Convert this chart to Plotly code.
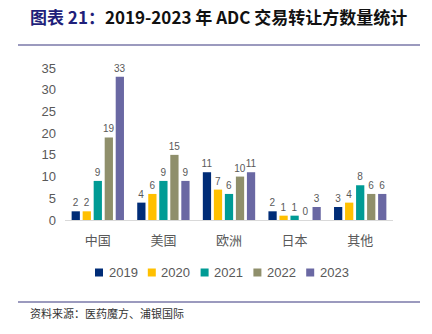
import plotly.graph_objects as go

categories = ["中国", "美国", "欧洲", "日本", "其他"]
years = ["2019", "2020", "2021", "2022", "2023"]
v2019 = [2, 4, 11, 2, 3]
v2020 = [2, 6, 7, 1, 4]
v2021 = [9, 9, 6, 1, 8]
v2022 = [19, 15, 10, 0, 6]
v2023 = [33, 9, 11, 3, 6]
series = [v2019, v2020, v2021, v2022, v2023]
colors = ["#002C77", "#FFC000", "#009B95", "#8F8F6B", "#6A68A3"]

W, H = 432, 334
L, R, T, B = 65, 393, 68, 220
pw, ph = R - L, B - T
def px(x):
    return (x - L) / pw
def py(y):
    return (B - y) / ph

fig = go.Figure()
for name, vals, c in zip(years, series, colors):
    fig.add_trace(go.Bar(
        x=categories, y=vals, name=name, showlegend=False,
        marker=dict(color=c, line=dict(width=0)),
        text=[str(v) for v in vals], textposition="outside", constraintext="none",
        textfont=dict(size=10, color="#595959", family="Liberation Sans, Arial"),
        cliponaxis=False,
    ))

fig.update_layout(
    width=W, height=H,
    margin=dict(l=L, r=W - R, t=T, b=H - B),
    paper_bgcolor="white", plot_bgcolor="white",
    barmode="group", bargap=0.16, bargroupgap=0.25,
    font=dict(family="Liberation Sans, Arial", color="#595959"),
    showlegend=False,
    xaxis=dict(showline=True, linecolor="#D9D9D9", linewidth=1, ticks="",
               tickfont=dict(size=13, color="#595959", family="Noto Sans CJK SC"),
               ticklabelstandoff=8, fixedrange=True),
    yaxis=dict(range=[0, 35], dtick=5, showgrid=False, zeroline=False, showline=False,
               tickfont=dict(size=13, color="#595959"), ticklabelstandoff=8),
)

# legend (drawn as swatches + labels to match the compact reference legend)
leg_x0, leg_pitch, leg_y, sq = 95, 52.8, 272.5, 8
for i, (name, c) in enumerate(zip(years, colors)):
    x0 = leg_x0 + i * leg_pitch
    fig.add_shape(type="rect", xref="paper", yref="paper",
                  x0=px(x0), x1=px(x0 + sq), y0=py(leg_y - sq / 2), y1=py(leg_y + sq / 2),
                  fillcolor=c, line=dict(width=0))
    fig.add_annotation(xref="paper", yref="paper", x=px(x0 + sq + 3.5), y=py(leg_y),
                       xanchor="left", yanchor="middle", showarrow=False, text=name,
                       font=dict(size=13, color="#595959", family="Liberation Sans, Arial"))

fig.add_annotation(
    xref="paper", yref="paper", x=px(28), y=py(16), xanchor="left", yanchor="middle",
    showarrow=False,
    text="<span style='color:#1F1F7A'>图表 21：</span><span style='color:#111111'>2019-2023 年 ADC 交易转让方数量统计</span>",
    font=dict(size=17, family="Noto Sans CJK SC", weight="bold"),
)
fig.add_annotation(
    xref="paper", yref="paper", x=px(28), y=py(313), xanchor="left", yanchor="middle",
    showarrow=False, text="资料来源：医药魔方、浦银国际",
    font=dict(size=11, family="Noto Sans CJK SC", color="#333333"),
)
for yy in (45, 302):
    fig.add_shape(type="line", xref="paper", yref="paper",
                  x0=px(18), x1=px(420), y0=py(yy), y1=py(yy),
                  line=dict(color="#7A78A8", width=1.5))

fig.write_html("out.html")
